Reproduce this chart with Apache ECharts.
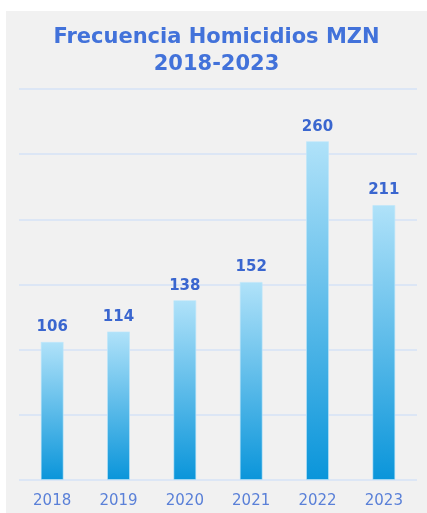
<!DOCTYPE html>
<html><head><meta charset="utf-8">
<script src="https://cdn.jsdelivr.net/npm/echarts@6/dist/echarts.min.js"></script>
<style>
html,body{margin:0;padding:0;background:#fff;width:427px;height:513px;overflow:hidden}
#c{position:absolute;left:6px;top:11px;width:421px;height:502px;background:#f1f1f1}
</style></head>
<body><div id="c"></div>
<script>
const categories = ['2018','2019','2020','2021','2022','2023'];
const values = [106,114,138,152,260,211];
const titleLines = ['Frecuencia Homicidios MZN','2018-2023'];

const chart = echarts.init(document.getElementById('c'), null, {renderer:'canvas'});
chart.setOption({
  backgroundColor:'transparent',
  animation:false,
  title:{
    text: titleLines.join('\n'),
    left:'center', top:8,
    textStyle:{fontFamily:'DejaVu Sans', fontWeight:'bold', fontSize:21, color:'#4272da', lineHeight:27}
  },
  grid:{left:13, right:10, top:78, bottom:33},
  xAxis:{
    type:'category', data:categories,
    axisLine:{show:false}, axisTick:{show:false},
    axisLabel:{fontFamily:'DejaVu Sans', fontSize:15, color:'#5a80d8', margin:14}
  },
  yAxis:{
    type:'value', min:0, max:300, interval:50,
    axisLabel:{show:false}, axisLine:{show:false}, axisTick:{show:false},
    splitLine:{lineStyle:{color:'#d4e2f6', width:1.5}}
  },
  series:[{
    type:'bar', data:values, barWidth:23,
    itemStyle:{
      color:new echarts.graphic.LinearGradient(0,0,0,1,[
        {offset:0,color:'#b0e2f9'},{offset:1,color:'#0a95da'}
      ]),
      borderColor:'rgba(190,230,250,0.6)', borderWidth:1
    },
    label:{show:true, position:'top', distance:7,
      fontFamily:'DejaVu Sans', fontWeight:'bold', fontSize:15, color:'#3a66cf'}
  }]
});
</script></body></html>
